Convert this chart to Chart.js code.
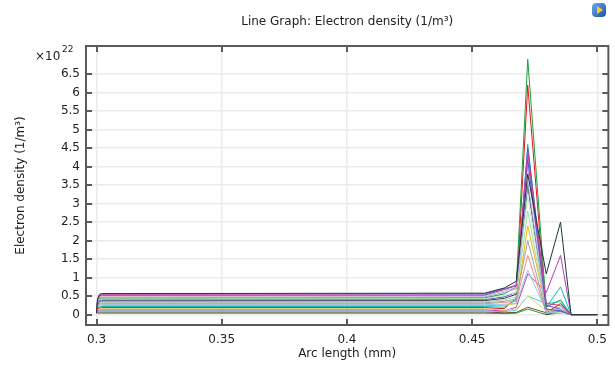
<!DOCTYPE html>
<html>
<head>
<meta charset="utf-8">
<script src="https://cdn.jsdelivr.net/npm/chart.js@4"></script>
<style>
  body { margin: 0; background: #fff; }
</style>
</head>
<body>
<canvas id="myChart" width="615" height="367"></canvas>
<script>
// Arc length positions (mm) where the curves are sampled
const arcLength = [0.3, 0.3004, 0.3012, 0.302, 0.455, 0.4628, 0.4676, 0.4722, 0.4796, 0.4853, 0.4895, 0.5];

// Electron density, units of 1e22 1/m^3, one row per curve
const densityCurves = [
  [0.05, 0.42, 0.55, 0.57, 0.58, 0.72, 0.90, 3.80, 1.10, 2.50, 0, 0],
  [0.05, 0.40, 0.53, 0.55, 0.56, 0.70, 0.80, 4.40, 0.30, 0.25, 0, 0],
  [0.05, 0.38, 0.51, 0.525, 0.53, 0.68, 0.78, 4.20, 0.15, 0.10, 0, 0],
  [0.05, 0.37, 0.48, 0.50, 0.51, 0.64, 0.74, 4.00, 0.10, 0.15, 0, 0],
  [0.05, 0.35, 0.46, 0.475, 0.48, 0.60, 0.70, 3.60, 0.05, 0.10, 0, 0],
  [0.05, 0.33, 0.44, 0.45, 0.455, 0.56, 0.75, 6.90, 0.20, 0.40, 0, 0],
  [0.05, 0.31, 0.41, 0.425, 0.43, 0.52, 0.60, 3.20, 0.05, 0.05, 0, 0],
  [0.05, 0.30, 0.39, 0.40, 0.405, 0.48, 0.60, 4.50, 0.25, 0.15, 0, 0],
  [0.05, 0.28, 0.36, 0.375, 0.38, 0.44, 0.55, 3.50, 0.00, 0.10, 0, 0],
  [0.05, 0.26, 0.34, 0.35, 0.35, 0.40, 0.48, 2.80, 0.05, 0.05, 0, 0],
  [0.05, 0.24, 0.31, 0.32, 0.32, 0.36, 0.42, 2.00, 0.05, 0.05, 0, 0],
  [0.05, 0.22, 0.285, 0.295, 0.295, 0.33, 0.36, 1.60, 0.05, 0.10, 0, 0],
  [0.05, 0.20, 0.26, 0.27, 0.27, 0.28, 0.30, 1.20, 0.10, 0.20, 0, 0],
  [0.05, 0.19, 0.235, 0.245, 0.245, 0.25, 0.30, 2.40, 0.15, 0.05, 0, 0],
  [0.05, 0.17, 0.21, 0.22, 0.22, 0.20, 0.40, 4.60, 0.20, 0.75, 0, 0],
  [0.05, 0.15, 0.18, 0.19, 0.19, 0.16, 0.45, 6.20, 0.05, 0.30, 0, 0],
  [0.05, 0.13, 0.155, 0.16, 0.16, 0.12, 0.15, 0.50, 0.10, 0.25, 0, 0],
  [0.05, 0.11, 0.125, 0.13, 0.13, 0.10, 0.20, 1.10, 0.60, 1.60, 0, 0],
  [0.05, 0.09, 0.10, 0.10, 0.10, 0.08, 0.12, 0.50, 0.30, 0.35, 0, 0],
  [0.04, 0.06, 0.07, 0.07, 0.07, 0.05, 0.06, 0.20, 0.05, 0.10, 0, 0],
  [0.03, 0.04, 0.04, 0.04, 0.04, 0.03, 0.04, 0.15, 0.00, 0.05, 0, 0]
];

const lineColors = [
  '#1e3838', '#d23c9c', '#3b4fd6', '#f2a7c4', '#8fb0e0', '#1e9e3c', '#c8e8d0',
  '#5a50d8', '#3c3c3c', '#9fdc9f', '#a0a0a0', '#ee8a8a', '#8ccbe8', '#f5b400',
  '#00c0c0', '#e01818', '#e0d870', '#b040c0', '#3ad0d0', '#6a5030', '#20a020'
];

const xTicks = [0.3, 0.35, 0.4, 0.45, 0.5];
const yTicks = [0, 0.5, 1, 1.5, 2, 2.5, 3, 3.5, 4, 4.5, 5, 5.5, 6, 6.5];

const FONT = 'DejaVu Sans';

// Frame, inward ticks, title, exponent and logo
const decorations = {
  id: 'decorations',
  afterDraw(chart) {
    const ctx = chart.ctx;
    const a = chart.chartArea;
    const xs = chart.scales.x, ys = chart.scales.y;
    ctx.save();
    ctx.strokeStyle = '#5a5a5a';
    ctx.lineWidth = 2;
    ctx.strokeRect(a.left, a.top, a.right - a.left, a.bottom - a.top);
    ctx.beginPath();
    xTicks.forEach(v => {
      const px = Math.round(xs.getPixelForValue(v));
      ctx.moveTo(px, a.bottom); ctx.lineTo(px, a.bottom - 6);
      ctx.moveTo(px, a.top); ctx.lineTo(px, a.top + 6);
    });
    yTicks.forEach(v => {
      const py = Math.round(ys.getPixelForValue(v));
      ctx.moveTo(a.left, py); ctx.lineTo(a.left + 6, py);
      ctx.moveTo(a.right, py); ctx.lineTo(a.right - 6, py);
    });
    ctx.stroke();

    ctx.fillStyle = '#222';
    ctx.textBaseline = 'alphabetic';
    ctx.textAlign = 'center';
    ctx.font = '12px "' + FONT + '"';
    ctx.fillText('Line Graph: Electron density (1/m³)', (a.left + a.right) / 2, 25);

    ctx.textAlign = 'left';
    ctx.fillText('×10', 35, 60);
    ctx.font = '9px "' + FONT + '"';
    ctx.fillText('22', 62, 52);

    // small logo in the corner
    const g = ctx.createLinearGradient(592, 3, 606, 17);
    g.addColorStop(0, '#6fa8e8');
    g.addColorStop(1, '#1d4fb0');
    ctx.fillStyle = g;
    ctx.beginPath();
    ctx.roundRect(592, 3, 14, 14, 4);
    ctx.fill();
    ctx.fillStyle = '#f4d020';
    ctx.beginPath();
    ctx.moveTo(597, 6); ctx.lineTo(603, 10); ctx.lineTo(597, 14);
    ctx.closePath();
    ctx.fill();
    ctx.restore();
  }
};

const datasets = densityCurves.map((row, i) => ({
  data: arcLength.map((x, j) => ({ x: x, y: row[j] })),
  borderColor: lineColors[i],
  borderWidth: 1,
  pointRadius: 0,
  tension: 0,
  fill: false
}));

let myChart = document.getElementById('myChart').getContext('2d');

new Chart(myChart, {
  type: 'line',
  data: { datasets: datasets },
  options: {
    responsive: false,
    animation: false,
    layout: { padding: { top: 46, left: 12, right: 5, bottom: 4 } },
    plugins: {
      legend: { display: false },
      title: { display: false },
      tooltip: { enabled: false }
    },
    scales: {
      x: {
        type: 'linear',
        min: 0.2958,
        max: 0.5044,
        afterBuildTicks: (scale) => { scale.ticks = xTicks.map(v => ({ value: v })); },
        afterFit: (scale) => { scale.height = 38; },
        grid: { color: '#ebebeb', lineWidth: 1.5, drawTicks: false },
        border: { display: false },
        ticks: {
          padding: 8,
          color: '#222',
          font: { family: FONT, size: 12 },
          callback: (v) => String(v)
        },
        title: {
          display: true,
          text: 'Arc length (mm)',
          color: '#222',
          font: { family: FONT, size: 12 },
          padding: { top: 0, bottom: 2 }
        }
      },
      y: {
        type: 'linear',
        min: -0.28,
        max: 7.26,
        afterBuildTicks: (scale) => { scale.ticks = yTicks.map(v => ({ value: v })); },
        afterFit: (scale) => { scale.width = 74; },
        grid: { color: '#ebebeb', lineWidth: 1.5, drawTicks: false },
        border: { display: false },
        ticks: {
          padding: 6,
          color: '#222',
          font: { family: FONT, size: 12 },
          callback: (v) => String(v)
        },
        title: {
          display: true,
          text: 'Electron density (1/m³)',
          color: '#222',
          font: { family: FONT, size: 12 },
          padding: { top: 2, bottom: 0 }
        }
      }
    }
  },
  plugins: [decorations]
});
</script>
</body>
</html>
